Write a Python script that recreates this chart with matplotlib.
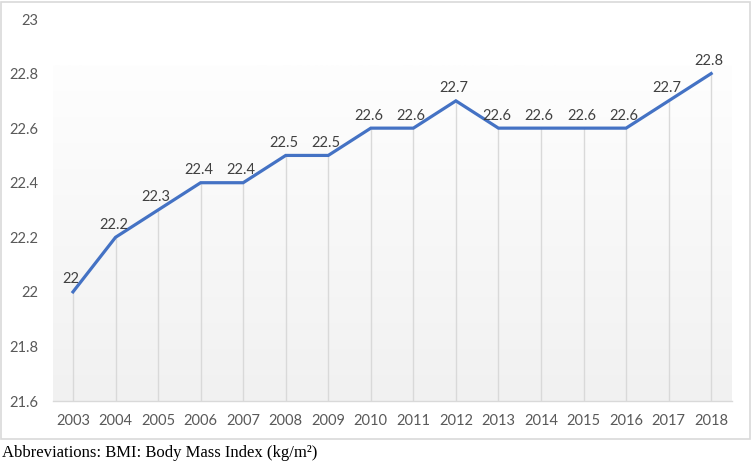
import numpy as np
import matplotlib
matplotlib.use("Agg")
import matplotlib.pyplot as plt
from matplotlib.colors import LinearSegmentedColormap
from matplotlib.patches import Rectangle

years = [2003, 2004, 2005, 2006, 2007, 2008, 2009, 2010,
         2011, 2012, 2013, 2014, 2015, 2016, 2017, 2018]
bmi = [22.0, 22.2, 22.3, 22.4, 22.4, 22.5, 22.5, 22.6,
       22.6, 22.7, 22.6, 22.6, 22.6, 22.6, 22.7, 22.8]
yticks = [21.6, 21.8, 22.0, 22.2, 22.4, 22.6, 22.8, 23.0]
ytick_labels = ["21.6", "21.8", "22", "22.2", "22.4", "22.6", "22.8", "23"]
caption = "Abbreviations: BMI: Body Mass Index (kg/m\u00b2)"

W, H = 752, 465
fig = plt.figure(figsize=(W / 100, H / 100), dpi=100)
fig.patch.set_facecolor("white")

# outer chart border
fig.patches.append(Rectangle((1.5 / W, (H - 439) / H), 748.5 / W, 437 / H,
                             transform=fig.transFigure, fill=False,
                             edgecolor="#d9d9d9", lw=1.2))

left, right, bottom, top = 53, 732, 401, 19
ax = fig.add_axes([left / W, (H - bottom) / H, (right - left) / W, (bottom - top) / H])
ax.set_xlim(years[0] - 0.47, years[-1] + 0.49)
ax.set_ylim(21.6, 23.0)
ax.set_facecolor("none")

# gradient plot area
cmap = LinearSegmentedColormap.from_list("g", ["#f1f1f1", "#fefefe"])
grad = np.linspace(0, 1, 256).reshape(-1, 1)
ax.imshow(grad, cmap=cmap, origin="lower", aspect="auto",
          extent=[years[0] - 0.47, years[-1] + 0.49, 21.6, 22.83], zorder=0)

ax.vlines(years, 21.6, bmi, color="#d9d9d9", lw=1.0, zorder=1)
ax.plot(years, bmi, color="#4472C4", lw=2.3, zorder=3, solid_joinstyle="miter")

fam = ["Lato", "DejaVu Sans"]
for x, v in zip(years, bmi):
    ax.annotate(f"{v:g}", (x, v), xytext=(-1.5, 4.0), textcoords="offset points",
                ha="center", va="bottom", color="#404040", fontsize=10.5,
                family=fam, zorder=4)

for s in ["top", "right", "left"]:
    ax.spines[s].set_visible(False)
ax.spines["bottom"].set_color("#d9d9d9")
ax.spines["bottom"].set_linewidth(1.0)

ax.set_xticks(years)
ax.set_xticklabels([str(y) for y in years], family=fam, fontsize=10.5, color="#595959")
ax.set_yticks(yticks)
ax.set_yticklabels(ytick_labels, family=fam, fontsize=10.5, color="#595959")
ax.tick_params(axis="both", length=0)
ax.tick_params(axis="x", pad=9)
ax.tick_params(axis="y", pad=10.5)

fig.text(2 / W, (H - 457) / H, caption, family=["Liberation Serif"], fontsize=12,
         color="black", ha="left", va="baseline")

fig.savefig("out.png", dpi=100, facecolor="white")
